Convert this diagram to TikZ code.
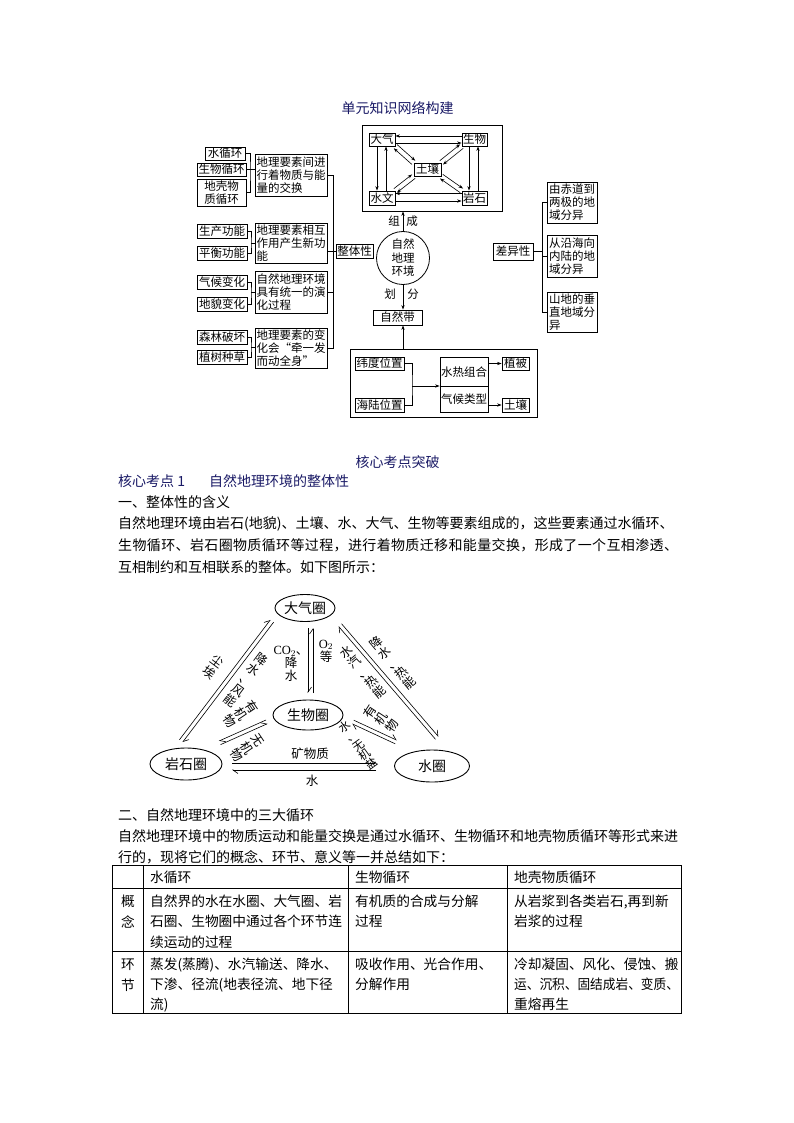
\documentclass[tikz,border=0pt]{standalone}
\usepackage{fontspec}
\setmainfont{Noto Sans CJK SC}
\newfontfamily\serifl{Liberation Serif}
\usetikzlibrary{arrows.meta,shapes.geometric,calc,backgrounds}
\definecolor{navy}{HTML}{1A1A66}
\newcommand\dgf{\fontsize{11.5}{13}\selectfont}
\newcommand\bodyf{\fontsize{14}{14}\selectfont}
\newcommand\tabf{\fontsize{13.7}{13.7}\selectfont}
\newcommand\lbf{\fontsize{12.5}{13}\selectfont}
\tikzset{
 box/.style={draw, line width=0.8pt, inner sep=0pt, font=\dgf, align=center, fill=white},
 ln/.style={line width=0.8pt},
 arr/.style={line width=0.6pt, -{Stealth[length=4.5pt,width=3.2pt]}},
 hp/.style={line width=0.6pt, -{Straight Barb[harpoon,length=5pt,width=7pt]}},
 txt/.style={inner sep=0pt, anchor=base west, font=\bodyf},
 ttxt/.style={inner sep=0pt, anchor=base west, font=\tabf},
 tc/.style={inner sep=0pt, anchor=base, font=\tabf},
 lab/.style={inner sep=0pt, font=\lbf, align=center},
 dlab/.style={inner sep=0pt, font=\dgf, align=center},
 ell/.style={draw, ellipse, line width=0.9pt, inner sep=0pt, font=\fontsize{14}{14}\selectfont},
}
\newcommand\bx[7][]{\node[box,#1, minimum width={(#5)-(#3)}, minimum height={(#6)-(#4)}] (#2) at ({((#3)+(#5))/2},{((#4)+(#6))/2}) {#7};}
\begin{document}
\begin{tikzpicture}[x=1pt,y=-1pt]
\useasboundingbox (0,0) rectangle (794,1123);
\fill[white] (0,0) rectangle (794,1123);

% ---------- title
\node[txt, anchor=base, text=navy] (title) at (397.5,113.3) {单元知识网络构建};

% ---------- top box
\node[draw, line width=0.8pt, minimum width=140, minimum height=86, inner sep=0pt, fill=white] (top) at (432,168) {};
\bx{dq}{369}{133}{395}{146}{大气}
\bx{sw}{462}{133}{487}{146}{生物}
\bx{tr}{414}{163}{441}{176}{土壤}
\bx{sh}{369}{191}{395}{205}{水文}
\bx{ys}{462}{191}{487}{205}{岩石}
\draw[arr] ($(sw.west)+(0,-3.5)$) -- ($(dq.east)+(0,-3.5)$);
\draw[arr] ($(dq.east)+(0,3.5)$) -- ($(sw.west)+(0,3.5)$);
\draw[arr] ($(ys.west)+(0,-4.5)$) -- ($(sh.east)+(0,-4.5)$);
\draw[arr] ($(sh.east)+(0,3)$) -- ($(ys.west)+(0,3)$);
\draw[arr] ($(dq.south)+(-5,0)$) -- ($(sh.north)+(-5,0)$);
\draw[arr] ($(sh.north)+(4,0)$) -- ($(dq.south)+(4,0)$);
\draw[arr] ($(sw.south)+(-5.5,0)$) -- ($(ys.north)+(-5.5,0)$);
\draw[arr] ($(ys.north)+(3.5,0)$) -- ($(sw.south)+(3.5,0)$);
\foreach \a/\b in {dq.south east/tr.north west, sw.south west/tr.north east, sh.north east/tr.south west, ys.north west/tr.south east}{
  \draw[arr] ($(\a)!2.5pt!90:(\b)$) -- ($(\b)!2.5pt!-90:(\a)$);
  \draw[arr] ($(\b)!2.5pt!90:(\a)$) -- ($(\a)!2.5pt!-90:(\b)$);
}

% ---------- left column
\bx{s1}{205}{147}{245}{160}{水循环}
\bx{s2}{197}{163}{246}{176}{生物循环}
\bx{s3}{197}{179}{246}{206}{地壳物\\质循环}
\bx[align=left]{A}{255}{154}{327}{196}{地理要素间进\\行着物质与能\\量的交换}
\coordinate (j1) at (250,169.5);
\draw[ln] (s1.east) -| (j1) |- (s3.east);
\draw[ln] (s2.east) -- (s2.east -| A.west);

\bx{p1}{197}{224}{247}{238}{生产功能}
\bx{p2}{197}{246}{247}{260}{平衡功能}
\bx[align=left]{B}{255}{223}{327}{263}{地理要素相互\\作用产生新功\\能}
\coordinate (j2) at (251,243);
\draw[ln] (p1.east) -| (j2) |- (p2.east);
\draw[ln] (j2) -- (j2 -| B.west);

\bx{c1}{197}{275}{247}{289}{气候变化}
\bx{c2}{197}{297}{247}{311}{地貌变化}
\bx[align=left]{C}{255}{271}{327}{313}{自然地理环境\\具有统一的演\\化过程}
\coordinate (j3) at (251,292);
\draw[ln] (c1.east) -| (j3) |- (c2.east);
\draw[ln] (j3) -- (j3 -| C.west);

\bx{f1}{197}{330}{247}{344}{森林破坏}
\bx{f2}{197}{350}{247}{364}{植树种草}
\bx[align=left]{D}{255}{328}{327}{368}{地理要素的变\\化会“牵一发\\而动全身”}
\coordinate (j4) at (251,347);
\draw[ln] (f1.east) -| (j4) |- (f2.east);
\draw[ln] (j4) -- (j4 -| D.west);

\bx{zt}{336}{244}{373}{258}{整体性}
\coordinate (J) at (333,251);
\draw[ln] (A.east) -- (A.east -| J) -- (D.east -| J) -- (D.east);
\draw[ln] (C.east) -- (C.east -| J);
\draw[ln] (B.east |- J) -- (zt.west);

% ---------- centre
\node[circle, draw, line width=0.8pt, minimum size=53, inner sep=0pt, font=\fontsize{11.5}{13.5}\selectfont, align=center, fill=white] (ce) at (403,258) {自然\\地理\\环境};
\bx{zrd}{373}{310}{422}{325}{自然带}
\bx{cy}{493}{243}{533}{260}{差异性}
\coordinate (lt) at (353,172);
\coordinate (rt) at (513,176);
\coordinate (hl) at (403,251.5);
\begin{pgfonlayer}{background}
\draw[ln] (top.west |- lt) -- (lt) |- (zrd.west);
\draw[ln] (top.east |- rt) -- (rt) |- (zrd.east);
\draw[ln] (zt.east |- hl) -- (cy.west |- hl);
\end{pgfonlayer}
\draw[arr] (ce.north) -- (ce.north |- top.south);
\node[dlab] (zu) at (394,221) {组};
\node[dlab] (cheng) at (412,221) {成};
\draw[arr] (ce.south) -- (ce.south |- zrd.north);
\node[dlab] (hua) at (390,294) {划};
\node[dlab] (fen) at (413,294) {分};

% ---------- right column
\bx[align=left]{R1}{547}{182}{597}{223}{由赤道到\\两极的地\\域分异}
\bx[align=left]{R2}{547}{235}{597}{277}{从沿海向\\内陆的地\\域分异}
\bx[align=left]{R3}{547}{292}{597}{332}{山地的垂\\直地域分\\异}
\coordinate (K) at (542,251.5);
\draw[line width=1.6pt] (cy.east) -- (cy.east -| K);
\draw[ln] (R1.west) -- (R1.west -| K) -- (R3.west -| K) -- (R3.west);
\draw[ln] (R2.west) -- (R2.west -| K);

% ---------- bottom box
\node[draw, line width=0.8pt, minimum width=187, minimum height=68, inner sep=0pt] (bb) at (443.5,383) {};
\draw[arr] (bb.north -| ce.south) -- (zrd.south -| ce.south);
\bx{wd}{355}{357}{404}{370}{纬度位置}
\bx{hlw}{355}{398}{404}{412}{海陆位置}
\coordinate (bj) at (412,386);
\draw[ln] (wd.east) -| (bj) |- (hlw.east);
\node[draw, line width=0.8pt, minimum width=48, minimum height=55, inner sep=0pt] (sr) at (464,384.5) {};
\draw[ln] (sr.west |- bj) -- (sr.east |- bj);
\draw[arr] (bj) -- (bj -| sr.west);
\node[dlab] (sr1) at (464,372) {水热组合};
\node[dlab] (sr2) at (464,399) {气候类型};
\bx{zb}{502}{357}{529}{370}{植被}
\bx{trb}{502}{398}{529}{412}{土壤}
\draw[arr] (sr.east |- zb.west) -- (zb.west);
\draw[arr] (sr.east |- trb.west) -- (trb.west);

% ---------- text block 1
\node[txt, anchor=base, text=navy] (h1) at (397.5,467.3) {核心考点突破};
\node[txt, text=navy] (h2a) at (118,486.3) {核心考点 1};
\node[txt, text=navy] (h2b) at (209,486.3) {自然地理环境的整体性};
\node[txt] (h3) at (118,507.3) {一、整体性的含义};
\node[txt] (p1a) at (118,528.3) {自然地理环境由岩石(地貌)、土壤、水、大气、生物等要素组成的，这些要素通过水循环、};
\node[txt] (p1b) at (118,550.3) {\addfontfeature{LetterSpace=2.6}生物循环、岩石圈物质循环等过程，进行着物质迁移和能量交换，形成了一个互相渗透、};
\node[txt] (p1c) at (118,572.3) {互相制约和互相联系的整体。如下图所示：};

% ---------- triangle diagram
\node[ell, minimum width=60, minimum height=27] (dqq) at (305,608) {大气圈};
\node[ell, minimum width=70, minimum height=30] (swq) at (308,715) {生物圈};
\node[ell, minimum width=72, minimum height=32] (ysq) at (186,764) {岩石圈};
\node[ell, minimum width=75, minimum height=32] (shq) at (432,766) {水圈};

\coordinate (l1a) at (179.4,739.8); \coordinate (l1b) at (270.4,619.8);
\coordinate (l2a) at (273.6,622.2); \coordinate (l2b) at (182.6,742.2);
\draw[hp] (l1a) -- (l1b);
\draw[hp] (l2a) -- (l2b);
\coordinate (r1a) at (341.5,623.7); \coordinate (r1b) at (438.5,736.7);
\coordinate (r2a) at (435.5,739.3); \coordinate (r2b) at (338.5,626.3);
\draw[hp] (r1a) -- (r1b);
\draw[hp] (r2a) -- (r2b);
\coordinate (m1a) at (308,628); \coordinate (m1b) at (308,693);
\coordinate (m2a) at (313,693); \coordinate (m2b) at (313,628);
\draw[hp] (m1a) -- (m1b);
\draw[hp] (m2a) -- (m2b);
\coordinate (b1a) at (232,763); \coordinate (b1b) at (376,763);
\coordinate (b2a) at (376,770); \coordinate (b2b) at (232,770);
\draw[hp] (b1a) -- (b1b);
\draw[hp] (b2a) -- (b2b);
\coordinate (q1a) at (266,720); \coordinate (q1b) at (219,741);
\coordinate (q2a) at (220.6,744.6); \coordinate (q2b) at (267.6,723.6);
\draw[hp] (q1a) -- (q1b);
\draw[hp] (q2a) -- (q2b);
\coordinate (w1a) at (353.8,720.2); \coordinate (w1b) at (396.8,740.2);
\coordinate (w2a) at (395.2,743.8); \coordinate (w2b) at (352.2,723.8);
\draw[hp] (w1a) -- (w1b);
\draw[hp] (w2a) -- (w2b);

\node[lab, rotate=-37] (la1) at (213,667) {尘\\埃};
\node[lab, rotate=-37] (la2) at (246,680) {降\\水\\、\\风\\能};
\node[lab, rotate=40] (la3) at (363,672) {水\\汽\\、\\热\\能};
\node[lab, rotate=40] (la4) at (393,663) {降\\水\\、\\热\\能};
\node[lab] (la5) at (291,664) {{\serifl CO$_2$}、\\降\\水};
\node[lab] (la6) at (326,651) {{\serifl O$_2$}\\等};
\node[lab, rotate=-56] (la7) at (241,714) {有\\机\\物};
\node[lab, rotate=-56] (la8) at (247,748) {无\\机\\物};
\node[lab, rotate=57] (la9) at (381,719) {有\\机\\物};
\node[lab, rotate=36, font=\fontsize{11.5}{11.5}\selectfont] (la10) at (358,745) {水\\、\\无\\机\\盐};
\node[lab] (la11) at (310,754) {矿物质};
\node[lab] (la12) at (312,781) {水};

% ---------- text block 2
\node[txt] (h4) at (118,820.3) {二、自然地理环境中的三大循环};
\node[txt] (p2a) at (118,841.3) {自然地理环境中的物质运动和能量交换是通过水循环、生物循环和地壳物质循环等形式来进};
\node[txt] (p2b) at (118,862.3) {行的，现将它们的概念、环节、意义等一并总结如下：};

% ---------- table
\draw[ln] (112,865) rectangle (681,1013);
\draw[ln] (112,888) -- (681,888);
\draw[ln] (112,951) -- (681,951);
\draw[ln] (143,865) -- (143,1013);
\draw[ln] (348,865) -- (348,1013);
\draw[ln] (507,865) -- (507,1013);

\node[ttxt] (th1) at (150,882.2) {水循环};
\node[ttxt] (th2) at (355,882.2) {生物循环};
\node[ttxt] (th3) at (514,882.2) {地壳物质循环};

\node[tc] (g1) at (128,906.2) {概};
\node[tc] (g2) at (128,927.2) {念};
\node[ttxt] (c21) at (150,906.2) {自然界的水在水圈、大气圈、岩};
\node[ttxt] (c22) at (150,926.2) {石圈、生物圈中通过各个环节连};
\node[ttxt] (c23) at (150,947.2) {续运动的过程};
\node[ttxt] (c31) at (355,906.2) {有机质的合成与分解};
\node[ttxt] (c32) at (355,926.2) {过程};
\node[ttxt] (c41) at (514,906.2) {从岩浆到各类岩石,再到新};
\node[ttxt] (c42) at (514,926.2) {岩浆的过程};

\node[tc] (e1) at (128,969.2) {环};
\node[tc] (e2) at (128,990.2) {节};
\node[ttxt] (d21) at (150,969.2) {蒸发(蒸腾)、水汽输送、降水、};
\node[ttxt] (d22) at (150,989.2) {下渗、径流(地表径流、地下径};
\node[ttxt] (d23) at (150,1009.2) {流)};
\node[ttxt] (d31) at (355,969.2) {吸收作用、光合作用、};
\node[ttxt] (d32) at (355,989.2) {分解作用};
\node[ttxt] (d41) at (514,969.2) {冷却凝固、风化、侵蚀、搬};
\node[ttxt] (d42) at (514,989.2) {\scalebox{0.925}[1]{运、沉积、固结成岩、变质、}};
\node[ttxt] (d43) at (514,1009.2) {重熔再生};
\end{tikzpicture}
\end{document}
